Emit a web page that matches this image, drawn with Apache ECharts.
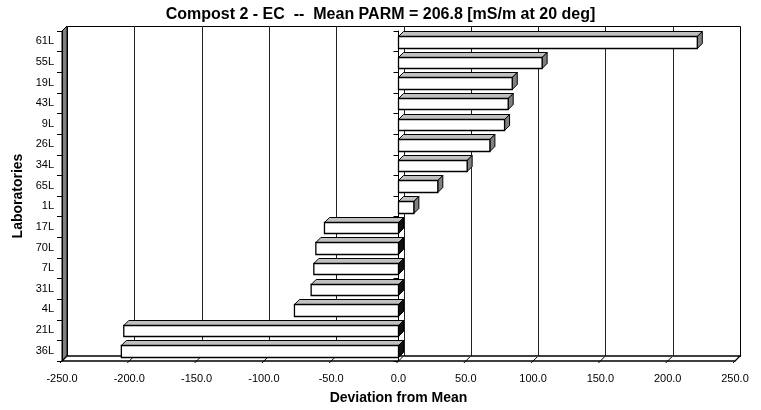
<!DOCTYPE html>
<html>
<head>
<meta charset="utf-8">
<script src="https://cdn.jsdelivr.net/npm/echarts@6/dist/echarts.min.js"></script>
<style>
html,body{margin:0;padding:0;background:#fff;}
#chart{width:761px;height:410px;}
</style>
</head>
<body>
<div id="chart"></div>
<script>
// ---- data ----
var titleText = 'Compost 2 - EC  --  Mean PARM = 206.8 [mS/m at 20 deg]';
var labs = ['61L','55L','19L','43L','9L','26L','34L','65L','1L','17L','70L','7L','31L','4L','21L','36L'];
var deviations = [222.0, 106.7, 84.5, 81.5, 78.8, 67.9, 51.0, 29.2, 11.4, -55.0, -61.4, -62.9, -64.9, -77.3, -204.1, -205.9];
var xTicks = [-250, -200, -150, -100, -50, 0, 50, 100, 150, 200, 250];
var xName = 'Deviation from Mean';
var yName = 'Laboratories';

// ---- chart ----
var D = 5; // depth offset in px for the 3D look
var FONT = 'Liberation Sans, Arial, sans-serif';
var chart = echarts.init(document.getElementById('chart'), null, {renderer: 'canvas'});

function wallRender(params, api) {
  var cs = params.coordSys;
  var x0 = cs.x, x1 = cs.x + cs.width, y0 = cs.y, y1 = cs.y + cs.height;
  var children = [];
  // back wall
  children.push({type: 'rect', shape: {x: x0 + D + 0.5, y: y0 - D + 0.5, width: cs.width, height: cs.height},
    style: {fill: '#fff', stroke: '#000', lineWidth: 1}});
  // back gridlines
  xTicks.forEach(function (v) {
    if (v === xTicks[0] || v === xTicks[xTicks.length - 1]) return;
    var X = Math.round(api.coord([v, 0])[0]) + D + 0.5;
    children.push({type: 'line', shape: {x1: X, y1: y0 - D, x2: X, y2: y1 - D},
      style: {stroke: '#222', lineWidth: 1}});
  });
  // left wall
  children.push({type: 'polygon', shape: {points: [[x0, y0], [x0 + D, y0 - D], [x0 + D, y1 - D], [x0, y1]]},
    style: {fill: '#808080', stroke: '#000', lineWidth: 1}});
  // floor
  children.push({type: 'polygon', shape: {points: [[x0, y1], [x0 + D, y1 - D], [x1 + D, y1 - D], [x1, y1]]},
    style: {fill: '#fff', stroke: '#000', lineWidth: 1.3}});
  // floor tick diagonals
  xTicks.forEach(function (v) {
    var X = api.coord([v, 0])[0];
    children.push({type: 'line', shape: {x1: X - 2, y1: y1 + 2, x2: X + D - 1, y2: y1 - D + 1},
      style: {stroke: '#000', lineWidth: 1}});
  });
  return {type: 'group', children: children};
}

function barRender(params, api) {
  var v = api.value(0), idx = api.value(1);
  var p0 = api.coord([0, idx]);
  var p1 = api.coord([v, idx]);
  var h = api.size([0, 1])[1] * 0.56;
  var cy = p0[1] + 0.5;
  var yT = Math.round(cy - h / 2) + 0.5, yB = Math.round(cy + h / 2) + 0.5;
  var xl = Math.min(p0[0], p1[0]), xr = Math.max(p0[0], p1[0]);
  return {type: 'group', children: [
    {type: 'polygon', shape: {points: [[xl, yT], [xl + D, yT - D], [xr + D, yT - D], [xr, yT]]},
      style: {fill: '#c0c0c0', stroke: '#000', lineWidth: 1}},
    {type: 'polygon', shape: {points: [[xr, yT], [xr + D, yT - D], [xr + D, yB - D], [xr, yB]]},
      style: {fill: v >= 0 ? '#808080' : '#111', stroke: '#000', lineWidth: 1}},
    {type: 'rect', shape: {x: xl, y: yT, width: xr - xl, height: yB - yT},
      style: {fill: '#fff', stroke: '#000', lineWidth: 1.3}}
  ]};
}

var option = {
  backgroundColor: '#fff',
  animation: false,
  title: {
    text: titleText, left: 'center', top: 2,
    textStyle: {fontFamily: FONT, fontWeight: 'bold', fontSize: 16, color: '#000'}
  },
  grid: {left: 62, right: 26, top: 31, bottom: 47, containLabel: false},
  xAxis: {
    type: 'value', min: -250, max: 250, interval: 50,
    axisLine: {show: false}, axisTick: {show: false}, splitLine: {show: false},
    axisLabel: {fontFamily: FONT, fontSize: 11, color: '#000', margin: 12,
      formatter: function (v) { return v.toFixed(1); }},
    name: xName, nameLocation: 'middle', nameGap: 30,
    nameTextStyle: {fontFamily: FONT, fontWeight: 'bold', fontSize: 14, color: '#000'}
  },
  yAxis: [{
    type: 'category', data: labs, inverse: true, position: 'left',
    axisLine: {show: true, onZero: false, lineStyle: {color: '#000'}},
    axisTick: {show: true, length: 5, lineStyle: {color: '#000'}},
    axisLabel: {fontFamily: FONT, fontSize: 11, color: '#000', margin: 8},
    splitLine: {show: false},
    name: yName, nameLocation: 'middle', nameGap: 36, nameRotate: 90,
    nameTextStyle: {fontFamily: FONT, fontWeight: 'bold', fontSize: 14, color: '#000'},
    z: 10
  }, {
    type: 'category', data: labs, inverse: true, position: 'left',
    axisLine: {show: true, onZero: true, lineStyle: {color: '#000'}},
    axisTick: {show: true, length: 5, lineStyle: {color: '#000'}},
    axisLabel: {show: false},
    splitLine: {show: false},
    z: 1
  }],
  series: [{
    type: 'custom', renderItem: wallRender, data: [[0, 0]], z: 0, silent: true,
    encode: {x: 0, y: 1}, clip: false
  }, {
    type: 'custom', renderItem: barRender, z: 3, clip: false,
    data: deviations.map(function (v, i) { return [v, i]; }),
    encode: {x: 0, y: 1}
  }]
};
chart.setOption(option);
</script>
</body>
</html>
